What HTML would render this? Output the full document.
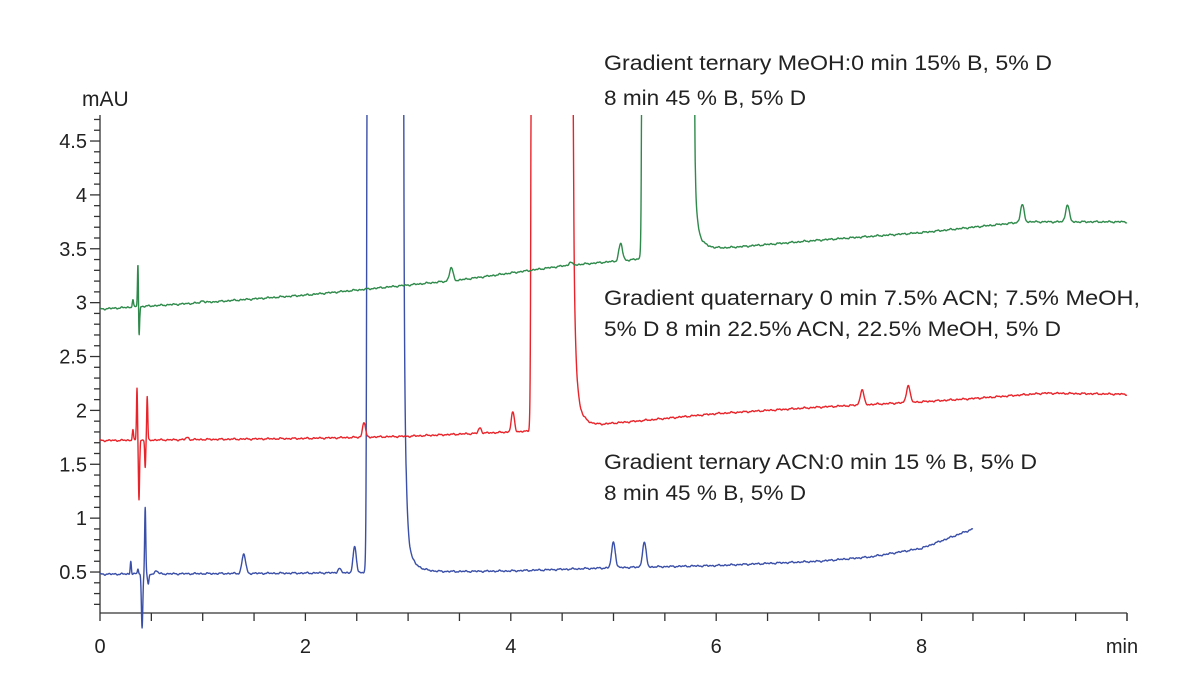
<!DOCTYPE html>
<html><head><meta charset="utf-8"><style>
html,body{margin:0;padding:0;background:#fff;}
svg{display:block;}
text{font-family:"Liberation Sans Narrow","Liberation Sans",sans-serif;fill:#222;}
</style></head><body>
<svg id="s" width="1200" height="688" viewBox="0 0 1200 688" xmlns="http://www.w3.org/2000/svg">
<defs><clipPath id="c"><rect x="100" y="115" width="1040" height="520"/></clipPath></defs>
<g id="axes" stroke="#333" stroke-width="1.3" fill="none"></g>
<g clip-path="url(#c)" fill="none" stroke-width="1.4" stroke-linejoin="round">
<path id="pb" stroke="#3a4fa8"/>
<path id="pr" stroke="#e8242a"/>
<path id="pg" stroke="#2e8a4a"/>
</g>
<g font-size="21">
<text x="82" y="106">mAU</text>
<text x="604" y="70" textLength="448" lengthAdjust="spacingAndGlyphs">Gradient ternary MeOH:0 min 15% B, 5% D</text>
<text x="604" y="105" textLength="202" lengthAdjust="spacingAndGlyphs">8 min 45 % B, 5% D</text>
<text x="604" y="305" textLength="536" lengthAdjust="spacingAndGlyphs">Gradient quaternary 0 min 7.5% ACN; 7.5% MeOH,</text>
<text x="604" y="336" textLength="457" lengthAdjust="spacingAndGlyphs">5% D 8 min 22.5% ACN, 22.5% MeOH, 5% D</text>
<text x="604" y="469" textLength="433" lengthAdjust="spacingAndGlyphs">Gradient ternary ACN:0 min 15 % B, 5% D</text>
<text x="604" y="500" textLength="202" lengthAdjust="spacingAndGlyphs">8 min 45 % B, 5% D</text>
</g>
<g id="lbl" font-size="20"></g>
</svg>
<script>
var NS="http://www.w3.org/2000/svg";
function X(t){return 100+t*102.7;}
function Y(v){return 625.9-107.75*v;}
var ax=document.getElementById("axes"),lb=document.getElementById("lbl");
function ln(x1,y1,x2,y2){var l=document.createElementNS(NS,"line");l.setAttribute("x1",x1);l.setAttribute("y1",y1);l.setAttribute("x2",x2);l.setAttribute("y2",y2);ax.appendChild(l);}
function tx(x,y,s,a){var t=document.createElementNS(NS,"text");t.setAttribute("x",x);t.setAttribute("y",y);t.setAttribute("text-anchor",a);t.textContent=s;lb.appendChild(t);}
ln(100,613,1127,613);ln(100,115,100,613);
for(var i=0;i<=20;i++){var x=X(i*0.5);ln(x,613,x,621);}
ln(1127,613,1127,621);
[0,2,4,6,8].forEach(function(t){tx(X(t),653,String(t),"middle");});
tx(1122,653,"min","middle");
for(var k=2;k<=47;k++){var v=k/10,y=Y(v),maj=(k%5==0);ln(maj?90:94,y,100,y);}
[0.5,1,1.5,2,2.5,3,3.5,4,4.5].forEach(function(v){tx(87,Y(v)+7,String(v),"end");});
function interp(pts,t){if(t<=pts[0][0])return pts[0][1];for(var i=1;i<pts.length;i++){if(t<=pts[i][0]){var a=pts[i-1],b=pts[i];return a[1]+(b[1]-a[1])*(t-a[0])/(b[0]-a[0]);}}return pts[pts.length-1][1];}
function noise(t){return 0.004*Math.sin(t*97.3)+0.003*Math.sin(t*211.7+1)+0.003*Math.sin(t*53.1+2);}
function build(id,base,peaks,big,tend){
 var d="",first=true;
 for(var t=0;t<=tend;t+=0.002){
  var v=interp(base,t)+noise(t);
  peaks.forEach(function(p){var z=(t-p[0])/p[2];v+=p[1]*Math.exp(-z*z);});
  if(big){var s=big[0],e=big[1];
   if(t<e){v+=10/(1+Math.exp(-(t-s)/0.004));}
   else{var dt=t-e;v+=10*Math.exp(-dt/0.004)+big[2]*Math.exp(-dt/big[3])+big[4]*Math.exp(-dt/big[5]);}
  }
  var y=Y(v);if(y<100)y=100;
  d+=(first?"M":"L")+X(t).toFixed(1)+","+y.toFixed(1);first=false;
 }
 document.getElementById(id).setAttribute("d",d);
}
build("pb",[[0,0.48],[2,0.49],[3,0.5],[4,0.51],[5,0.54],[6,0.56],[7,0.6],[7.5,0.64],[8,0.72],[8.5,0.9]],
 [[0.3,0.12,0.008],[0.37,0.05,0.008],[0.41,-0.5,0.01],[0.44,0.62,0.008],[0.47,-0.1,0.01],[0.55,0.03,0.02],[1.4,0.18,0.025],[2.33,0.04,0.02],[2.48,0.24,0.022],[5.0,0.24,0.025],[5.3,0.23,0.025]],
 [2.6,2.95,4.0,0.018,0.35,0.08],8.5);
build("pr",[[0,1.72],[2,1.74],[3,1.76],[4,1.8],[4.6,1.82],[5,1.88],[6,1.97],[7,2.03],[8,2.08],[8.5,2.11],[9.2,2.16],[10,2.15]],
 [[0.32,0.1,0.008],[0.36,0.48,0.007],[0.38,-0.55,0.008],[0.44,-0.25,0.007],[0.46,0.4,0.007],[0.85,0.02,0.02],[2.57,0.14,0.02],[3.7,0.05,0.02],[4.02,0.18,0.022],[7.42,0.14,0.025],[7.87,0.16,0.025]],
 [4.2,4.6,2.6,0.02,0.4,0.08],10);
build("pg",[[0,2.94],[1,3.0],[2,3.07],[3.5,3.21],[4.5,3.34],[5.2,3.4],[6,3.5],[7,3.58],[8,3.65],[9,3.75],[10,3.75]],
 [[0.32,0.07,0.008],[0.37,0.45,0.007],[0.38,-0.3,0.008],[1.0,0.02,0.02],[3.42,0.12,0.025],[4.58,0.03,0.02],[5.07,0.16,0.025],[8.98,0.16,0.025],[9.42,0.16,0.025]],
 [5.28,5.78,1.0,0.018,0.3,0.07],10);
</script>
</body></html>
